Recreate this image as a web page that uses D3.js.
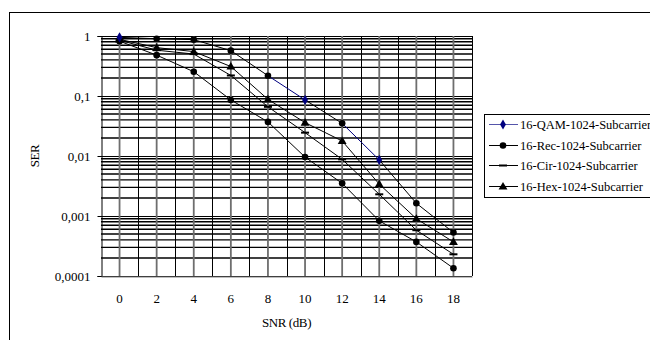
<!DOCTYPE html>
<html>
<head>
<meta charset="utf-8">
<script src="https://cdn.jsdelivr.net/npm/d3@7"></script>
<style>
  body { margin: 0; background: #fff; }
  svg { display: block; }
  svg text { font-family: "Liberation Serif", "Times New Roman", Times, serif; }
</style>
</head>
<body>
<svg id="chart" width="650" height="340"></svg>
<script>
// chart data
const snr = [0, 2, 4, 6, 8, 10, 12, 14, 16, 18];
const qamSer = [0.95, 0.9, 0.87, 0.57, 0.218, 0.086, 0.035, 0.0086, 0.00163, 0.00053];
const qamMarked = [0, 10, 14];   // points shown with the blue diamond
const recSer = [0.82, 0.48, 0.254, 0.086, 0.037, 0.0096, 0.0035, 0.00083, 0.00037, 0.000135];
const cirSer = [0.85, 0.58, 0.5, 0.22, 0.066, 0.0245, 0.0088, 0.0023, 0.00058, 0.00023];
const hexSer = [0.88, 0.64, 0.55, 0.31, 0.088, 0.036, 0.0178, 0.0034, 0.0009, 0.00037];
const yTicks = [1, 0.1, 0.01, 0.001, 0.0001];
const yTickLabels = ['1', '0,1', '0,01', '0,001', '0,0001'];
const legendNames = ['16-QAM-1024-Subcarrier', '16-Rec-1024-Subcarrier', '16-Cir-1024-Subcarrier', '16-Hex-1024-Subcarrier'];

const svg = d3.select('#chart');
const plot = { left: 101, right: 472, top: 36, bottom: 276 };
const serif = '"Liberation Serif", "Times New Roman", serif';

// outer frame (runs off the right and bottom edge like the original)
svg.append('rect')
    .attr('x', 9.5).attr('y', 12.5)
    .attr('width', 700).attr('height', 400)
    .attr('fill', 'none').attr('stroke', '#000');

const x = d3.scaleBand().domain(snr).range([plot.left, plot.right]).padding(0);
const cx = d => x(d) + x.bandwidth() / 2;
const y = d3.scaleLog().domain([0.0001, 1]).range([plot.bottom, plot.top]);

// horizontal grid: 2..9 minor lines, then decades
const minor = [];
for (let e = -4; e < 0; e++) {
    for (let k = 2; k < 10; k++) minor.push(k * Math.pow(10, e));
}
svg.append('g').selectAll('line')
    .data(minor)
    .join('line')
    .attr('x1', plot.left).attr('x2', plot.right)
    .attr('y1', d => y(d)).attr('y2', d => y(d))
    .attr('stroke', '#000').attr('stroke-width', 1.4);
svg.append('g').selectAll('line')
    .data(yTicks)
    .join('line')
    .attr('x1', plot.left).attr('x2', plot.right)
    .attr('y1', d => Math.round(y(d)) + 0.5).attr('y2', d => Math.round(y(d)) + 0.5)
    .attr('stroke', '#000').attr('stroke-width', 1);

// vertical grid: grey at categories, black between
svg.append('g').selectAll('line')
    .data(snr)
    .join('line')
    .attr('x1', d => cx(d)).attr('x2', d => cx(d))
    .attr('y1', plot.top).attr('y2', plot.bottom)
    .attr('stroke', '#6e6e6e').attr('stroke-width', 1.8);
svg.append('g').selectAll('line')
    .data(snr)
    .join('line')
    .attr('x1', d => Math.round(x(d) + x.bandwidth()) + 0.5)
    .attr('x2', d => Math.round(x(d) + x.bandwidth()) + 0.5)
    .attr('y1', plot.top).attr('y2', plot.bottom)
    .attr('stroke', '#000').attr('stroke-width', 1);

// axes
svg.append('g')
    .attr('transform', `translate(${plot.left + 0.5},0)`)
    .call(d3.axisLeft(y).tickValues(yTicks)
        .tickFormat((d, i) => yTickLabels[i])
        .tickSize(4).tickPadding(7))
    .call(g => g.select('.domain').attr('stroke', '#000'))
    .call(g => g.selectAll('text').attr('font-size', 13).attr('font-family', serif).attr('fill', '#000'));

svg.append('g')
    .attr('transform', `translate(0,${plot.bottom + 0.5})`)
    .call(d3.axisBottom(x).tickSize(0).tickPadding(17))
    .call(g => g.select('.domain').attr('stroke', '#808080'))
    .call(g => g.selectAll('text').attr('font-size', 13).attr('font-family', serif).attr('fill', '#000'));

svg.append('text')
    .attr('x', (plot.left + plot.right) / 2).attr('y', 327)
    .attr('text-anchor', 'middle').attr('font-size', 13)
    .attr('font-family', serif)
    .attr('letter-spacing', -0.4)
    .text('SNR (dB)');

svg.append('text')
    .attr('transform', `translate(39,${(plot.top + plot.bottom) / 2}) rotate(-90)`)
    .attr('text-anchor', 'middle').attr('font-size', 13)
    .attr('font-family', serif)
    .attr('letter-spacing', -0.4)
    .text('SER');

// markers
const tri = d3.symbol().type(d3.symbolTriangle).size(34);
const dia = d3.symbol().type(d3.symbolDiamond).size(30);
function marker(g, type, px, py, color) {
    if (type === 'circle') {
        g.append('circle').attr('cx', px).attr('cy', py).attr('r', 3.3).attr('fill', color);
    } else if (type === 'tri') {
        g.append('path').attr('d', tri).attr('transform', `translate(${px},${py + 0.5})`).attr('fill', color);
    } else if (type === 'dash') {
        g.append('rect').attr('x', px - 4).attr('y', py - 1).attr('width', 8).attr('height', 2).attr('fill', color);
    } else if (type === 'dia') {
        g.append('path').attr('d', dia).attr('transform', `translate(${px},${py})`).attr('fill', color);
    }
}

const line = d3.line().x(d => cx(d[0])).y(d => y(d[1]));
const series = [
    { vals: recSer, type: 'circle' },
    { vals: cirSer, type: 'dash' },
    { vals: hexSer, type: 'tri' }
];

const lines = svg.append('g');
series.forEach(s => {
    lines.append('path')
        .datum(snr.map((v, i) => [v, s.vals[i]]))
        .attr('d', line)
        .attr('fill', 'none').attr('stroke', '#000').attr('stroke-width', 1);
});

// top curve: blue where it runs into a marked QAM point
const qamPts = snr.map((v, i) => [v, qamSer[i]]);
for (let i = 1; i < qamPts.length; i++) {
    const blue = qamMarked.includes(qamPts[i][0]);
    lines.append('path')
        .datum([qamPts[i - 1], qamPts[i]])
        .attr('d', line)
        .attr('fill', 'none')
        .attr('stroke', blue ? '#000080' : '#000')
        .attr('stroke-width', 1);
}

const marks = svg.append('g');
series.forEach(s => {
    snr.forEach((v, i) => marker(marks, s.type, cx(v), y(s.vals[i]), '#000'));
});
qamPts.forEach(p => {
    if (qamMarked.includes(p[0])) marker(marks, 'dia', cx(p[0]), y(p[1]), '#000080');
    else marker(marks, 'circle', cx(p[0]), y(p[1]), '#000');
});

// legend
const leg = svg.append('g');
leg.append('rect')
    .attr('x', 484.5).attr('y', 114.5)
    .attr('width', 200).attr('height', 83)
    .attr('fill', '#fff').attr('stroke', '#000');
const legTypes = ['dia', 'circle', 'dash', 'tri'];
const legColors = ['#000080', '#000', '#000', '#000'];
const legY = [124, 145, 165, 186];
legendNames.forEach((name, i) => {
    leg.append('line')
        .attr('x1', 489).attr('x2', 518)
        .attr('y1', legY[i] + 0.5).attr('y2', legY[i] + 0.5)
        .attr('stroke', i === 0 ? '#5555aa' : '#000').attr('stroke-width', 1);
    marker(leg, legTypes[i], 503, legY[i] + 0.5, legColors[i]);
    leg.append('text')
        .attr('x', 520).attr('y', legY[i] + 4.5)
        .attr('font-size', 12.5)
        .attr('font-family', serif)
        .text(name);
});
</script>
</body>
</html>
